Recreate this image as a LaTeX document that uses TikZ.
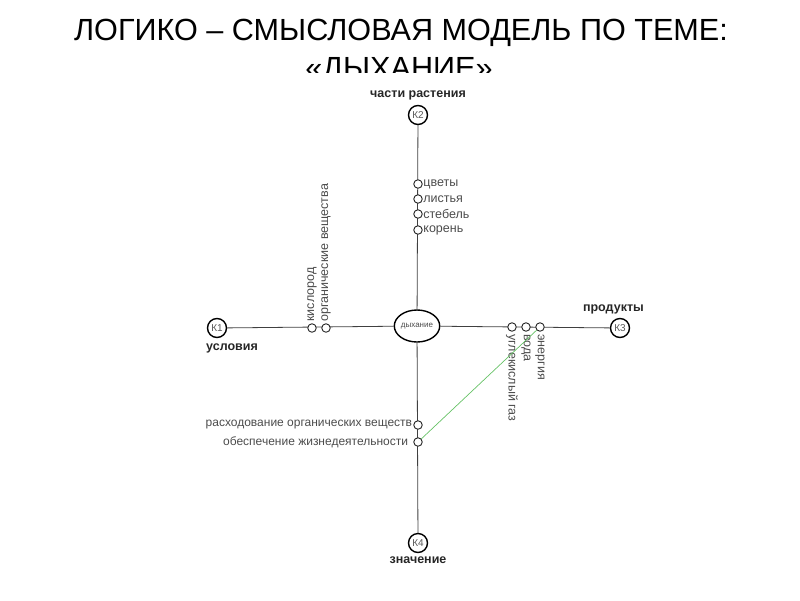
\documentclass[tikz,border=0pt]{standalone}
\usepackage{fontspec}
\setmainfont{Liberation Sans}
\usetikzlibrary{shapes.geometric}
\begin{document}
\begin{tikzpicture}[x=1pt,y=-1pt,
  kcirc/.style={circle,draw=black,line width=1.4pt,minimum size=19pt,inner sep=0pt,font=\fontsize{10}{10}\selectfont,text=black!65},
  dot/.style={circle,draw=black!85,line width=0.9pt,minimum size=8.5pt,inner sep=0pt,fill=white},
  lab/.style={font=\fontsize{12}{13}\selectfont,text=black!70,inner sep=1pt},
  rlab/.style={font=\fontsize{12.5}{13}\selectfont,text=black!70,inner sep=1.5pt},
  klab/.style={font=\bfseries\fontsize{12.5}{13}\selectfont,text=black!85,inner sep=0pt},
  conn/.style={draw=black!75,line width=0.8pt}]
\useasboundingbox (0,0) rectangle (800,600);
% title
\node[anchor=base,inner sep=0pt,font=\fontsize{30.6}{32}\selectfont] (t1) at (401,40) {ЛОГИКО – СМЫСЛОВАЯ МОДЕЛЬ ПО ТЕМЕ:};
\begin{scope}
\clip (0,48) rectangle (800,72);
\node[anchor=base,inner sep=0pt,font=\fontsize{30.6}{32}\selectfont] (t2) at (399,78) {«ДЫХАНИЕ»};
\end{scope}
% main nodes
\node[ellipse,draw=black,line width=1.4pt,minimum width=44pt,minimum height=32pt,inner sep=0pt,font=\fontsize{8}{8}\selectfont,text=black!70,fill=white] (c) at (417,326) {дыхание};
\node[kcirc] (k1) at (217,328) {К1};
\node[kcirc] (k2) at (418,115) {К2};
\node[kcirc] (k3) at (620,328) {К3};
\node[kcirc] (k4) at (418,543) {К4};
\node[klab,anchor=north west] (l1) at (206,344) {условия};
\node[klab,anchor=south] (l2) at (418,100) {части растения};
\node[klab,anchor=south east] (l3) at (644,314) {продукты};
\node[klab,anchor=north] (l4) at (418,557) {значение};
% connectors
\draw[conn] (k1) -- (c);
\draw[conn] (c) -- (k3);
\draw[conn] (k2) -- (c);
\draw[conn] (c) -- (k4);
% top dots
\node[dot] (d1) at (418,184) {};
\node[dot] (d2) at (418,199) {};
\node[dot] (d3) at (418,214) {};
\node[dot] (d4) at (418,230) {};
\node[rlab,anchor=west,inner sep=0.5pt] at (d1.east) {цветы};
\node[rlab,anchor=west,inner sep=0.5pt] at (d2.east) {листья};
\node[rlab,anchor=west,inner sep=0.5pt] at (d3.east) {стебель};
\node[rlab,anchor=west,inner sep=0.5pt] at (d4.east) {корень};
% left dots
\node[dot] (e1) at (312,328) {};
\node[dot] (e2) at (326,328) {};
\node[rlab,anchor=west,rotate=90] at (e1.north) {кислород};
\node[rlab,anchor=west,rotate=90] at (e2.north) {органические вещества};
% right dots
\node[dot] (f1) at (512,327) {};
\node[dot] (f2) at (526,327) {};
\node[dot] (f3) at (540,327) {};
\node[rlab,anchor=west,rotate=-90,inner sep=2.5pt] at (f1.south) {углекислый газ};
\node[rlab,anchor=west,rotate=-90,inner sep=2.5pt] at (f2.south) {вода};
\node[rlab,anchor=west,rotate=-90,inner sep=2.5pt] at (f3.south) {энергия};
% bottom dots
\node[dot] (g1) at (418,425) {};
\node[dot] (g2) at (418,442) {};
\node[lab,anchor=east] at (g1.west) {расходование органических веществ};
\node[lab,anchor=east] at ([xshift=-4pt]g2.west) {обеспечение жизнедеятельности};
% green link
\draw[green!60!black!60,line width=0.7pt] (g2) -- (f3);
\end{tikzpicture}
\end{document}
